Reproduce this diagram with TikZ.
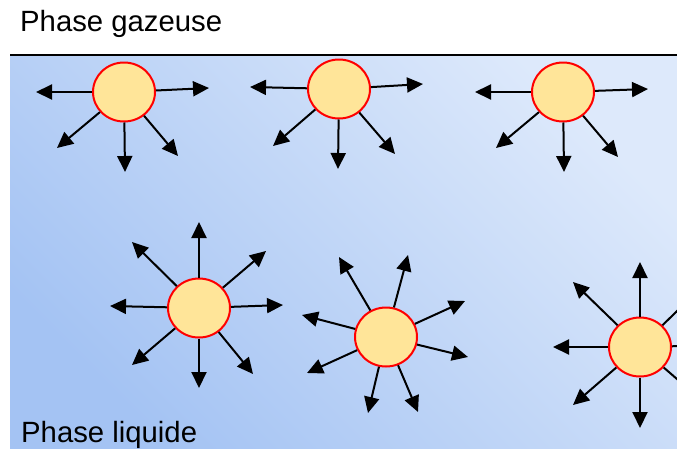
\documentclass[tikz,border=0pt]{standalone}
\usepackage{fontspec}
\setmainfont{Liberation Sans}
\usetikzlibrary{arrows.meta}
\usetikzlibrary{shapes.geometric}
\usetikzlibrary{positioning}

\definecolor{liquid-light}{HTML}{DDE9FB}
\definecolor{liquid-dark}{HTML}{A4C3F3}
\definecolor{bubble-fill}{HTML}{FFE599}

\begin{document}
\begin{tikzpicture}[x=1pt, y=-1pt]

\tikzset{my-bubble/.style={ellipse, draw=red, line width=2pt, fill=bubble-fill,
                           minimum width=62pt, minimum height=59pt, inner sep=0pt},
         my-arrow/.style={-{Triangle[length=16pt, width=15pt]}, line width=2pt},
         my-label/.style={anchor=base west, inner sep=0pt,
                          font=\fontsize{29.3}{35}\selectfont}}

\clip (0,0) rectangle (677,450);

\shade[top color=liquid-light, bottom color=liquid-dark, shading angle=-45]
  (10,56) rectangle (677,448);
\draw[line width=2pt] (10,55) -- (677,55);

\node (gas) [my-label] at (20,31) {Phase gazeuse};
\node (liquid) [my-label] at (21,442) {Phase liquide};

% bubbles at the surface
\node (s1) [my-bubble] at (124,92) {};
\node (s2) [my-bubble] at (339,89) {};
\node (s3) [my-bubble] at (563,92) {};

% bubbles in the liquid
\node (l1) [my-bubble] at (199,308) {};
\node (l2) [my-bubble] at (386,337) {};
\node (l3) [my-bubble] at (640,347) {};

\foreach \t/\x/\y in {w/36/92, e/209/88, sw/57/148, s/125/172, se/178/156}
  {\coordinate (s1-\t) at (\x,\y); \draw[my-arrow] (s1) -- (s1-\t);}
\foreach \t/\x/\y in {w/250/87, e/423/84, sw/273/146, s/338/169, se/395/154}
  {\coordinate (s2-\t) at (\x,\y); \draw[my-arrow] (s2) -- (s2-\t);}
\foreach \t/\x/\y in {w/475/92, e/648/89, sw/496/148, s/564/172, se/618/157}
  {\coordinate (s3-\t) at (\x,\y); \draw[my-arrow] (s3) -- (s3-\t);}

\foreach \t/\x/\y in {n/199/222, nw/132/242, ne/266/251, w/110/306,
                      e/283/305, sw/132/365, se/253/374, s/199/388}
  {\coordinate (l1-\t) at (\x,\y); \draw[my-arrow] (l1) -- (l1-\t);}
\foreach \t/\x/\y in {nnw/339/257, nne/408/255, ene/465/301, ese/468/357,
                      wnw/302/315, wsw/307/373, ssw/368/413, sse/418/412}
  {\coordinate (l2-\t) at (\x,\y); \draw[my-arrow] (l2) -- (l2-\t);}
\foreach \t/\x/\y in {n/640/262, nw/573/282, w/553/347, sw/573/405,
                      s/640/428, ne/707/282, e/727/345, se/707/405}
  {\coordinate (l3-\t) at (\x,\y); \draw[my-arrow] (l3) -- (l3-\t);}

\end{tikzpicture}
\end{document}
